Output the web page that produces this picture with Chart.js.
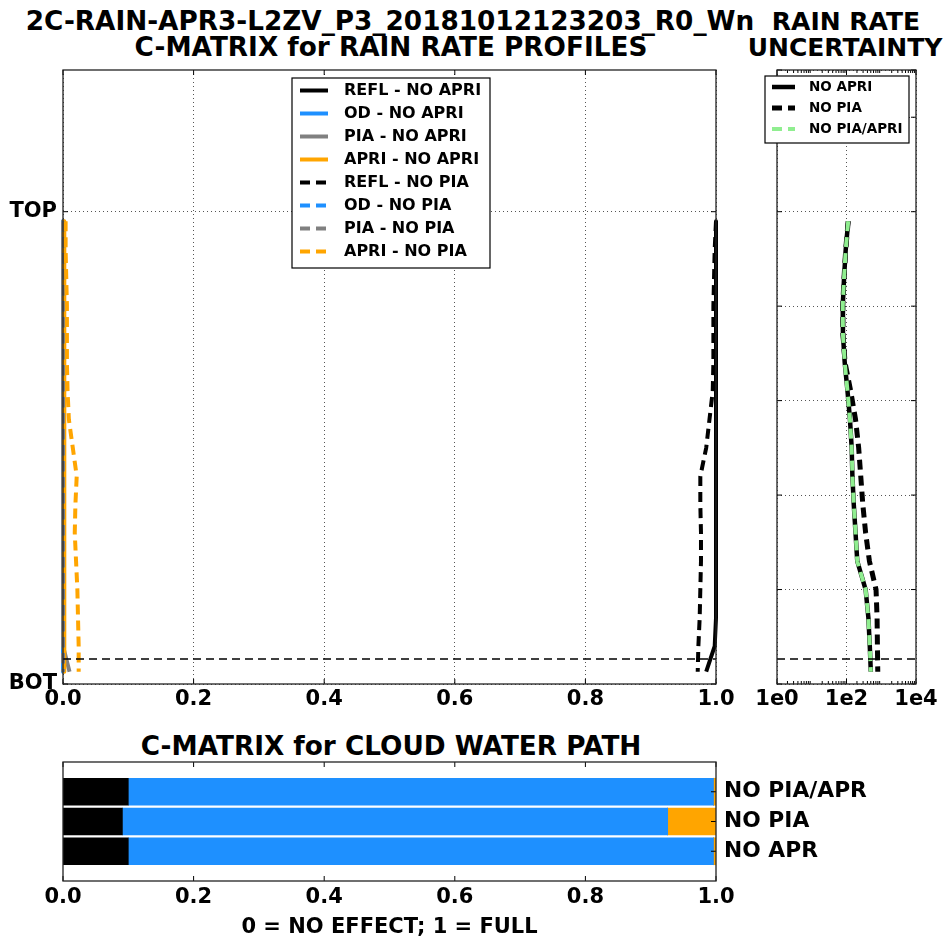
<!DOCTYPE html>
<html>
<head>
<meta charset="utf-8">
<script src="https://cdn.jsdelivr.net/npm/chart.js@4.4.1/dist/chart.umd.min.js"></script>
<style>
  html, body { margin:0; padding:0; background:#fff; }
  #page { position:relative; width:950px; height:937px; overflow:hidden; font-family:"DejaVu Sans", sans-serif; font-weight:bold; color:#000; }
  canvas { position:absolute; }
  .ttl { position:absolute; white-space:nowrap; font-size:26.3px; line-height:1; transform:translate(-50%,-50%); }
  .ttl.small { font-size:25px; }
</style>
</head>
<body>
<div id="page">
  <div class="ttl" style="left:390px;top:21px">2C-RAIN-APR3-L2ZV_P3_20181012123203_R0_Wn</div>
  <div class="ttl" style="left:391px;top:47px">C-MATRIX for RAIN RATE PROFILES</div>
  <div class="ttl small" style="left:846px;top:21px">RAIN RATE</div>
  <div class="ttl small" style="left:845px;top:47px">UNCERTAINTY</div>
  <div class="ttl" style="left:391px;top:746px">C-MATRIX for CLOUD WATER PATH</div>
  <canvas id="profiles" width="740" height="720" style="left:0;top:0"></canvas>
  <canvas id="uncert" width="210" height="720" style="left:740px;top:0"></canvas>
  <canvas id="cwp" width="950" height="217" style="left:0;top:720px"></canvas>
</div>
<script>
// height of each profile bin (BOT = 0, TOP = 5)
const levels = [4.9, 4.6, 4.3, 4.0, 3.7, 3.4, 3.1, 2.8, 2.5, 2.2, 1.9, 1.6, 1.3, 1.0, 0.7, 0.4, 0.13];
const surfaceLevel = 0.265;

// C-matrix profiles
const reflNoApri = [1.0, 1.0, 1.0, 1.0, 1.0, 1.0, 1.0, 1.0, 1.0, 1.0, 1.0, 1.0, 1.0, 1.0, 1.0, 0.998, 0.985];
const odNoApri   = [0, 0, 0, 0, 0, 0, 0, 0, 0, 0, 0, 0, 0, 0, 0, 0, 0];
const piaNoApri  = [0, 0, 0, 0, 0, 0, 0, 0, 0, 0, 0, 0, 0, 0, 0, 0.001, 0.010];
const apriNoApri = [0.002, 0.002, 0.002, 0.002, 0.002, 0.002, 0.002, 0.002, 0.002, 0.002, 0.002, 0.002, 0.002, 0.002, 0.002, 0.002, 0.002];
const reflNoPia  = [1.0, 0.998, 0.997, 0.996, 0.996, 0.996, 0.995, 0.99, 0.985, 0.976, 0.976, 0.977, 0.977, 0.976, 0.975, 0.973, 0.972];
const odNoPia    = [0, 0, 0, 0, 0, 0, 0, 0, 0, 0, 0, 0, 0, 0, 0, 0, 0];
const piaNoPia   = [0, 0, 0, 0, 0, 0, 0, 0, 0, 0, 0, 0, 0, 0, 0, 0, 0];
const apriNoPia  = [0.004, 0.004, 0.005, 0.006, 0.006, 0.006, 0.007, 0.009, 0.015, 0.021, 0.019, 0.018, 0.020, 0.022, 0.023, 0.024, 0.024];

const profileTickValues = [0, 5];
const profileTickLabels = ['BOT', 'TOP'];

// rain rate uncertainty
const uncNoApri    = [112, 95, 85, 78, 79, 89, 107, 126, 141, 148, 162, 182, 204, 355, 427, 468, 501];
const uncNoPia     = [112, 95, 85, 78, 79, 91, 132, 182, 224, 257, 295, 355, 457, 708, 759, 776, 794];
const uncNoPiaApri = [112, 95, 85, 78, 79, 89, 107, 126, 141, 148, 162, 182, 204, 355, 427, 468, 501];
const uncTickValues = [1, 100, 10000];
const uncTickLabels = ['1e0', '1e2', '1e4'];

// cloud water path
const cwpCategories = ['NO APR', 'NO PIA', 'NO PIA/APR'];
const cwpRefl = [0.10, 0.091, 0.10];
const cwpOd   = [0.896, 0.835, 0.896];
const cwpPia  = [0, 0, 0];
const cwpApri = [0.004, 0.074, 0.004];

Chart.defaults.font.family = "'DejaVu Sans', sans-serif";
Chart.defaults.font.weight = 'bold';
Chart.defaults.color = '#000';

const BLUE = '#1E90FF', ORANGE = '#FFA500', GRAY = '#808080', GREEN = '#90EE90';

function drawLegend(chart, lg) {
  const ctx = chart.ctx, a = chart.chartArea;
  const left = (lg.center ? (a.left + a.right) / 2 - lg.w / 2 : a.left) + lg.dx;
  const top = a.top + lg.dy;
  ctx.fillStyle = '#fff';
  ctx.fillRect(left, top, lg.w, lg.h);
  ctx.strokeStyle = '#000';
  ctx.lineWidth = 1.2;
  ctx.strokeRect(left, top, lg.w, lg.h);
  ctx.font = 'bold ' + lg.size + "px 'DejaVu Sans'";
  ctx.textBaseline = 'middle';
  lg.items.forEach((idx, i) => {
    const ds = chart.data.datasets[idx];
    const y = top + lg.first + lg.step * i;
    ctx.beginPath();
    ctx.setLineDash(ds.borderDash || []);
    ctx.strokeStyle = ds.borderColor;
    ctx.lineWidth = ds.borderWidth;
    ctx.moveTo(left + lg.x0, y);
    ctx.lineTo(left + lg.x1, y);
    ctx.stroke();
    ctx.setLineDash([]);
    ctx.fillStyle = '#000';
    ctx.fillText(ds.label, left + lg.tx, y);
  });
}

// frame, inward ticks and legend box
const decor = {
  id: 'decor',
  afterDatasetsDraw(chart, args, opts) {
    const ctx = chart.ctx, a = chart.chartArea;
    const xs = chart.scales.x, ys = chart.scales.y;
    ctx.save();
    ctx.setLineDash([]);
    ctx.strokeStyle = '#000';
    ctx.lineWidth = 1;
    ctx.beginPath();
    xs.ticks.forEach(t => {
      const p = xs.getPixelForValue(t.value);
      ctx.moveTo(p, a.bottom); ctx.lineTo(p, a.bottom - 5);
      ctx.moveTo(p, a.top); ctx.lineTo(p, a.top + 5);
    });
    ys.ticks.forEach(t => {
      const p = ys.getPixelForValue(t.value);
      ctx.moveTo(a.left, p); ctx.lineTo(a.left + 5, p);
      ctx.moveTo(a.right, p); ctx.lineTo(a.right - 5, p);
    });
    if (xs.type === 'logarithmic') {
      for (let d = 1; d < xs.max; d *= 10) {
        for (let m = 2; m < 10; m++) {
          const p = xs.getPixelForValue(d * m);
          ctx.moveTo(p, a.bottom); ctx.lineTo(p, a.bottom - 3);
          ctx.moveTo(p, a.top); ctx.lineTo(p, a.top + 3);
        }
      }
    }
    ctx.stroke();
    ctx.lineWidth = 1.3;
    ctx.strokeStyle = '#222';
    ctx.strokeRect(a.left, a.top, a.right - a.left, a.bottom - a.top);
    if (opts.legend) drawLegend(chart, opts.legend);
    ctx.restore();
  }
};

function profile(label, values, ys, color, dashed, width, order) {
  return {
    label: label,
    data: values.map((v, i) => ({x: v, y: ys[i]})),
    borderColor: color,
    backgroundColor: color,
    borderWidth: width,
    borderDash: dashed ? [10, 6] : [],
    borderJoinStyle: 'round',
    pointRadius: 0,
    fill: false,
    tension: 0,
    clip: false,
    order: order
  };
}

const dotted = { color: '#555', lineWidth: 1, drawTicks: false };

// ---- C-matrix profiles ----
new Chart(document.getElementById('profiles'), {
  type: 'line',
  data: {
    datasets: [
      profile('REFL - NO APRI', reflNoApri, levels, '#000', false, 4, 9),
      profile('OD - NO APRI', odNoApri, levels, BLUE, false, 4, 8),
      profile('PIA - NO APRI', piaNoApri, levels, GRAY, false, 4, 7),
      profile('APRI - NO APRI', apriNoApri, levels, ORANGE, false, 4, 6),
      profile('REFL - NO PIA', reflNoPia, levels, '#000', true, 4, 5),
      profile('OD - NO PIA', odNoPia, levels, BLUE, true, 4, 4),
      profile('PIA - NO PIA', piaNoPia, levels, GRAY, true, 4, 3),
      profile('APRI - NO PIA', apriNoPia, levels, ORANGE, true, 4, 2),
      {
        label: 'surface',
        data: [{x: 0, y: surfaceLevel}, {x: 1, y: surfaceLevel}],
        borderColor: '#000', borderWidth: 1.4, borderDash: [8, 5],
        pointRadius: 0, clip: false, order: 1
      }
    ]
  },
  options: {
    responsive: false,
    animation: false,
    devicePixelRatio: 1,
    layout: { padding: { left: 0, top: 70, right: 24, bottom: 0 } },
    plugins: {
      legend: { display: false },
      tooltip: { enabled: false },
      decor: {
        legend: { items: [0, 1, 2, 3, 4, 5, 6, 7], center: true, dx: 1.5, dy: 8, w: 198, h: 190,
                  first: 12.5, step: 23, x0: 8, x1: 36, tx: 52, size: 16 }
      }
    },
    scales: {
      x: {
        type: 'linear', min: 0, max: 1,
        ticks: { stepSize: 0.2, callback: v => v.toFixed(1), font: { size: 21, weight: 'bold' }, padding: 3, maxRotation: 0, autoSkip: false },
        grid: dotted,
        border: { display: false, dash: [1, 3] },
        afterFit: s => { s.height = 36; }
      },
      y: {
        type: 'linear', min: 0, max: 6.5,
        afterBuildTicks: s => { s.ticks = profileTickValues.map(v => ({value: v})); },
        ticks: { callback: v => profileTickLabels[profileTickValues.indexOf(v)], font: { size: 21, weight: 'bold' }, padding: 6 },
        grid: dotted,
        border: { display: false, dash: [1, 3] },
        afterFit: s => { s.width = 63; }
      }
    }
  },
  plugins: [decor]
});

// ---- rain rate uncertainty ----
new Chart(document.getElementById('uncert'), {
  type: 'line',
  data: {
    datasets: [
      profile('NO APRI', uncNoApri, levels, '#000', false, 4.5, 4),
      profile('NO PIA', uncNoPia, levels, '#000', true, 5, 3),
      profile('NO PIA/APRI', uncNoPiaApri, levels, GREEN, true, 4, 2),
      {
        label: 'surface',
        data: [{x: 1, y: surfaceLevel}, {x: 10000, y: surfaceLevel}],
        borderColor: '#000', borderWidth: 1.4, borderDash: [8, 5],
        pointRadius: 0, clip: false, order: 1
      }
    ]
  },
  options: {
    responsive: false,
    animation: false,
    devicePixelRatio: 1,
    layout: { padding: { left: 0, top: 70, right: 34, bottom: 0 } },
    plugins: {
      legend: { display: false },
      tooltip: { enabled: false },
      decor: {
        legend: { items: [0, 1, 2], center: false, dx: -12, dy: 6, w: 144, h: 67,
                  first: 11, step: 21, x0: 7, x1: 30, tx: 44, size: 13.5 }
      }
    },
    scales: {
      x: {
        type: 'logarithmic', min: 1, max: 10000,
        afterBuildTicks: s => { s.ticks = uncTickValues.map(v => ({value: v})); },
        ticks: { callback: v => uncTickLabels[uncTickValues.indexOf(v)], font: { size: 21, weight: 'bold' }, padding: 3, maxRotation: 0, autoSkip: false },
        grid: dotted,
        border: { display: false, dash: [1, 3] },
        afterFit: s => { s.height = 36; }
      },
      y: {
        type: 'linear', min: 0, max: 6.5,
        ticks: { stepSize: 1, display: false },
        grid: dotted,
        border: { display: false, dash: [1, 3] },
        afterFit: s => { s.width = 37; }
      }
    }
  },
  plugins: [decor]
});

// ---- cloud water path ----
function cwpBar(label, values, color) {
  return {
    label: label,
    data: values.map((v, i) => ({x: v, y: i})),
    backgroundColor: color,
    borderWidth: 0,
    barThickness: 27,
    grouped: false
  };
}

new Chart(document.getElementById('cwp'), {
  type: 'bar',
  data: {
    datasets: [
      cwpBar('REFL', cwpRefl, '#000'),
      cwpBar('OD', cwpOd, BLUE),
      cwpBar('PIA', cwpPia, GRAY),
      cwpBar('APRI', cwpApri, ORANGE)
    ]
  },
  options: {
    indexAxis: 'y',
    responsive: false,
    animation: false,
    devicePixelRatio: 1,
    layout: { padding: { left: 63, top: 42, right: 0, bottom: 0 } },
    plugins: { legend: { display: false }, tooltip: { enabled: false }, decor: {} },
    scales: {
      x: {
        type: 'linear', stacked: true, min: 0, max: 1, offset: false,
        ticks: { stepSize: 0.2, callback: v => v.toFixed(1), font: { size: 21, weight: 'bold' }, padding: 4, maxRotation: 0, autoSkip: false },
        grid: { display: false, drawTicks: false, offset: false },
        border: { display: false },
        title: { display: true, text: '0 = NO EFFECT; 1 = FULL', font: { size: 21, weight: 'bold' }, padding: { top: 0, bottom: -3 } },
        afterFit: s => { s.height = 56; }
      },
      y: {
        type: 'linear', position: 'right', min: -1, max: 3, offset: false,
        afterBuildTicks: s => { s.ticks = cwpCategories.map((c, i) => ({value: i})); },
        ticks: { callback: v => cwpCategories[v], font: { size: 21.8, weight: 'bold' }, padding: 8 },
        grid: { display: false, drawTicks: false, offset: false },
        border: { display: false },
        afterFit: s => { s.width = 234; }
      }
    }
  },
  plugins: [decor]
});
</script>
</body>
</html>
